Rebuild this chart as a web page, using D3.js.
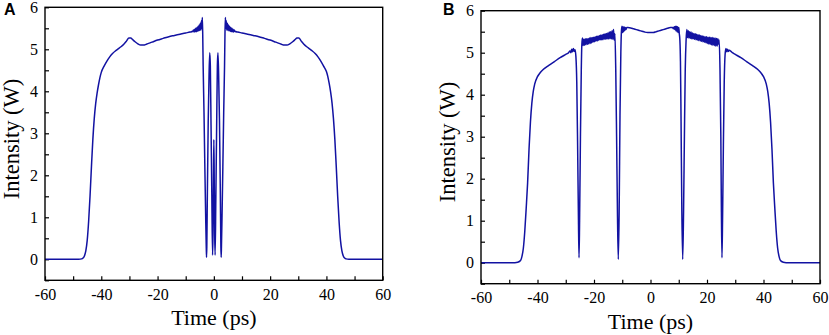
<!DOCTYPE html>
<html>
<head>
<meta charset="utf-8">
<script src="https://cdn.jsdelivr.net/npm/d3@7"></script>
<style>
  body { margin: 0; background: #fff; }
  svg { display: block; }
</style>
</head>
<body>
<svg id="chart" width="829" height="335"></svg>
<script>
// Panel A: time (ps) and intensity (W)
const timeA = [
  -60, -48, -47, -46.5, -46, -45.5, -45, -44.5, -44, -43.5, -43, -42.5, -42, -41.5, -41, -40.5, -40,
  -39, -38, -37, -36, -35, -34, -33, -32, -31, -30.2, -29.5, -29, -28, -27, -26, -25, -24, -22, -20,
  -18, -16, -14, -12, -10, -8.5, -7.5, -7.2, -7.0, -6.8, -6.6, -6.4, -6.2, -6.0, -5.8, -5.6, -5.4,
  -5.2, -5.0, -4.8, -4.6, -4.4, -4.25, -4.1, -3.95, -3.8, -3.5, -3.2, -2.9, -2.7, -2.6, -2.5, -2.3,
  -2.0, -1.7, -1.45, -1.25, -1.0, -0.7, -0.45, -0.3, -0.15, 0,
  0.15, 0.3, 0.45, 0.7, 1.0, 1.25, 1.45, 1.7, 2.0, 2.3, 2.5, 2.6, 2.7, 2.9, 3.2, 3.5, 3.8, 3.95, 4.1,
  4.25, 4.4, 4.6, 4.8, 5.0, 5.2, 5.4, 5.6, 5.8, 6.0, 6.2, 6.4, 6.6, 6.8, 7.0, 7.2, 7.5, 8.5, 10, 12,
  14, 16, 18, 20, 22, 24, 25, 26, 27, 28, 29, 29.5, 30.2, 31, 32, 33, 34, 35, 36, 37, 38, 39, 40,
  40.5, 41, 41.5, 42, 42.5, 43, 43.5, 44, 44.5, 45, 45.5, 46, 46.5, 47, 48, 60
];
const powerA = [
  0, 0, 0.01, 0.03, 0.08, 0.2, 0.45, 0.9, 1.5, 2.2, 2.85, 3.35, 3.7, 3.95, 4.15, 4.32, 4.45,
  4.6, 4.72, 4.82, 4.9, 4.96, 5.01, 5.06, 5.12, 5.2, 5.27, 5.27, 5.24, 5.18, 5.13, 5.1, 5.1, 5.12, 5.17, 5.22,
  5.26, 5.3, 5.33, 5.36, 5.39, 5.41, 5.43, 5.46, 5.41, 5.48, 5.42, 5.5, 5.42, 5.52, 5.43, 5.55, 5.44,
  5.58, 5.45, 5.62, 5.46, 5.68, 5.5, 5.76, 5.35, 4.6, 3.5, 2.2, 1.0, 0.3, 0.05, 0.3, 1.6,
  3.3, 4.4, 4.92, 4.6, 3.2, 1.4, 0.1, 0.6, 1.8, 2.85,
  1.8, 0.6, 0.1, 1.4, 3.2, 4.6, 4.92, 4.4, 3.3, 1.6, 0.3, 0.05, 0.3, 1.0, 2.2, 3.5, 4.6, 5.35, 5.76,
  5.5, 5.68, 5.46, 5.62, 5.45, 5.58, 5.44, 5.55, 5.43, 5.52, 5.42, 5.5, 5.42, 5.48, 5.41, 5.46, 5.43, 5.41, 5.39, 5.36,
  5.33, 5.3, 5.26, 5.22, 5.17, 5.12, 5.1, 5.1, 5.13, 5.18, 5.24, 5.27, 5.27, 5.2, 5.12, 5.06, 5.01, 4.96, 4.9, 4.82, 4.72, 4.6, 4.47,
  4.35, 4.18, 3.98, 3.72, 3.35, 2.85, 2.2, 1.5, 0.9, 0.45, 0.2, 0.08, 0.03, 0.01, 0, 0
];

// Panel B
const timeB = [
  -60, -48, -47, -46, -45.5, -45, -44.5, -44, -43.5, -43, -42.5, -42, -41.5, -41, -40, -39, -38, -36,
  -34, -32, -30, -29, -28.5, -28.2, -27.9, -27.6, -27.3, -27.0, -26.7, -26.4, -26.1, -25.8, -25.5,
  -25.3, -25.1, -24.8, -24.5, -24.3,
  -24.1, -23.85, -23.6, -23.35, -23.1, -22.85, -22.6, -22.35, -22.1, -21.85, -21.6, -21.35, -21.1,
  -20.85, -20.6, -20.35, -20.1, -19.85, -19.6, -19.35, -19.1, -18.85, -18.6, -18.35, -18.1, -17.85,
  -17.6, -17.35, -17.1, -16.85, -16.6, -16.35, -16.1, -15.85, -15.6, -15.35, -15.1, -14.85, -14.6,
  -14.35, -14.1, -13.85, -13.6, -13.35, -13.1, -12.85,
  -12.6, -12.3, -12.0, -11.7, -11.4, -11.1, -10.8, -10.5, -10.3,
  -10.1, -9.9, -9.7, -9.5, -9.3, -9.1, -8.9, -8.7, -8.4, -8, -7, -6, -5, -4, -3, -2, -1, 0,
  1, 2, 3, 4, 5, 6, 7, 7.8, 8.1, 8.4, 8.6, 8.8, 9.0, 9.2, 9.4, 9.6, 9.8, 10.0, 10.2, 10.4, 10.6,
  10.8, 11.1, 11.4, 11.7, 12.0, 12.3,
  12.6, 12.85, 13.1, 13.35, 13.6, 13.85, 14.1, 14.35, 14.6, 14.85, 15.1, 15.35, 15.6, 15.85, 16.1,
  16.35, 16.6, 16.85, 17.1, 17.35, 17.6, 17.85, 18.1, 18.35, 18.6, 18.85, 19.1, 19.35, 19.6, 19.85,
  20.1, 20.35, 20.6, 20.85, 21.1, 21.35, 21.6, 21.85, 22.1, 22.35, 22.6, 22.85, 23.1, 23.35, 23.6,
  23.85, 24.1, 24.3,
  24.6, 24.9, 25.1, 25.3, 25.5, 25.8,
  26.1, 26.4, 26.7, 27.0, 27.3, 27.6, 27.9, 28.5, 29, 30, 32, 34, 36, 38, 39, 40, 41, 41.5, 42, 42.5,
  43, 43.5, 44, 44.5, 45, 45.5, 46, 47, 48, 60
];
const powerB = [
  0, 0, 0.01, 0.05, 0.15, 0.35, 0.75, 1.3, 1.9, 2.7, 3.35, 3.8, 4.08, 4.25, 4.43, 4.53, 4.6, 4.7,
  4.79, 4.88, 4.96, 5.0, 5.04, 5.0, 5.08, 5.02, 5.1, 5.03, 5.07, 4.9, 4.3, 2.8, 1.0,
  0.12, 1.0, 3.0, 4.6, 5.2,
  5.35, 5.17, 5.32, 5.18, 5.33, 5.19, 5.33, 5.2, 5.34, 5.21, 5.35, 5.22, 5.36,
  5.23, 5.36, 5.25, 5.37, 5.26, 5.38, 5.27, 5.39, 5.28, 5.4, 5.29, 5.41, 5.3,
  5.42, 5.31, 5.43, 5.31, 5.44, 5.32, 5.45, 5.32, 5.46, 5.33, 5.47, 5.33, 5.49,
  5.33, 5.5, 5.33, 5.52, 5.32, 5.55, 5.3,
  5.45, 4.6, 3.0, 1.2, 0.08, 1.2, 3.5, 5.0, 5.5,
  5.63, 5.48, 5.62, 5.5, 5.61, 5.53, 5.6, 5.55, 5.6, 5.6, 5.59, 5.57, 5.55, 5.53, 5.51, 5.49, 5.48, 5.48,
  5.48, 5.5, 5.52, 5.54, 5.56, 5.58, 5.6, 5.6, 5.57, 5.62, 5.55, 5.63, 5.52, 5.63, 5.5, 5.62, 5.48, 5.6, 5.45, 5.3, 4.8,
  3.5, 1.2, 0.08, 1.2, 3.0, 4.6,
  5.3, 5.55, 5.36, 5.52, 5.35, 5.5, 5.34, 5.49, 5.33, 5.47, 5.33, 5.46, 5.32, 5.45, 5.31,
  5.44, 5.3, 5.43, 5.29, 5.42, 5.28, 5.41, 5.27, 5.4, 5.26, 5.39, 5.25, 5.38, 5.24, 5.38,
  5.22, 5.37, 5.21, 5.37, 5.2, 5.36, 5.19, 5.36, 5.18, 5.35, 5.17, 5.35, 5.16, 5.34, 5.16,
  5.33, 5.2, 5.3,
  4.6, 3.0, 1.2, 0.12, 1.0, 2.8,
  4.3, 4.95, 5.1, 5.02, 5.08, 5.03, 5.06, 5.03, 5.0, 4.96, 4.88, 4.79, 4.7, 4.6, 4.53, 4.43, 4.25, 4.08, 3.8, 3.35,
  2.7, 1.9, 1.3, 0.75, 0.35, 0.15, 0.05, 0.01, 0, 0
];

const xTickValues = [-60, -50, -40, -30, -20, -10, 0, 10, 20, 30, 40, 50, 60];
const xTickLabels = [-60, -40, -20, 0, 20, 40, 60];
const yTickValues = [-0.5, 0, 0.5, 1, 1.5, 2, 2.5, 3, 3.5, 4, 4.5, 5, 5.5, 6];
const yTickLabels = [0, 1, 2, 3, 4, 5, 6];

const svg = d3.select("#chart");
const lineColor = "#1212a2";

function drawPanel(opt) {
  const x = d3.scaleLinear().domain([-60, 60]).range([opt.left, opt.right]);
  const y = d3.scaleLinear().domain([-0.5, 6]).range([opt.bottom, opt.top]);

  const g = svg.append("g");

  const xAxis = d3.axisBottom(x)
    .tickValues(xTickValues)
    .tickSize(-4)
    .tickPadding(8)
    .tickFormat(d => xTickLabels.includes(d) ? String(d) : "");
  const gx = g.append("g")
    .attr("transform", `translate(0,${opt.bottom})`)
    .call(xAxis);

  const yAxis = d3.axisLeft(y)
    .tickValues(yTickValues)
    .tickSize(-4)
    .tickPadding(7)
    .tickFormat(d => yTickLabels.includes(d) ? String(d) : "");
  const gy = g.append("g")
    .attr("transform", `translate(${opt.left},0)`)
    .call(yAxis);

  [gx, gy].forEach(a => {
    a.select(".domain").remove();
    a.selectAll("line").attr("stroke", "#000").attr("stroke-width", 1.2);
    a.selectAll("text")
      .attr("fill", "#000")
      .style("font-family", "'Liberation Serif', 'Times New Roman', serif")
      .style("font-size", "16px");
  });

  // the curve
  const pts = opt.time.map((t, i) => [t, opt.power[i]]);
  g.append("path")
    .datum(pts)
    .attr("fill", "none")
    .attr("stroke", lineColor)
    .attr("stroke-width", 1.5)
    .attr("stroke-linejoin", "round")
    .attr("d", d3.line()
      .x(d => x(d[0]))
      .y(d => y(d[1]))
      .curve(d3.curveMonotoneX));

  // frame
  g.append("rect")
    .attr("x", opt.left)
    .attr("y", opt.top)
    .attr("width", opt.right - opt.left)
    .attr("height", opt.bottom - opt.top)
    .attr("fill", "none")
    .attr("stroke", "#000")
    .attr("stroke-width", 1.4);

  // axis titles
  g.append("text")
    .attr("x", (opt.left + opt.right) / 2)
    .attr("y", opt.bottom + 45)
    .attr("text-anchor", "middle")
    .style("font-family", "'Liberation Serif', 'Times New Roman', serif")
    .style("font-size", "22px")
    .text("Time (ps)");

  g.append("text")
    .attr("transform", `translate(${opt.yTitleX},${opt.yTitleY}) rotate(-90)`)
    .attr("text-anchor", "middle")
    .style("font-family", "'Liberation Serif', 'Times New Roman', serif")
    .style("font-size", "22.5px")
    .text("Intensity (W)");

  // panel letter
  g.append("text")
    .attr("x", opt.letterX)
    .attr("y", 15)
    .style("font-family", "'Liberation Sans', Arial, sans-serif")
    .style("font-weight", "bold")
    .style("font-size", "16px")
    .text(opt.letter);
}

drawPanel({
  left: 45, right: 382.7, top: 7.3, bottom: 280.3,
  time: timeA, power: powerA,
  yTitleX: 18.5, yTitleY: 139, letter: "A", letterX: 4
});

drawPanel({
  left: 481, right: 820, top: 10.7, bottom: 283.7,
  time: timeB, power: powerB,
  yTitleX: 455, yTitleY: 142, letter: "B", letterX: 443
});
</script>
</body>
</html>
